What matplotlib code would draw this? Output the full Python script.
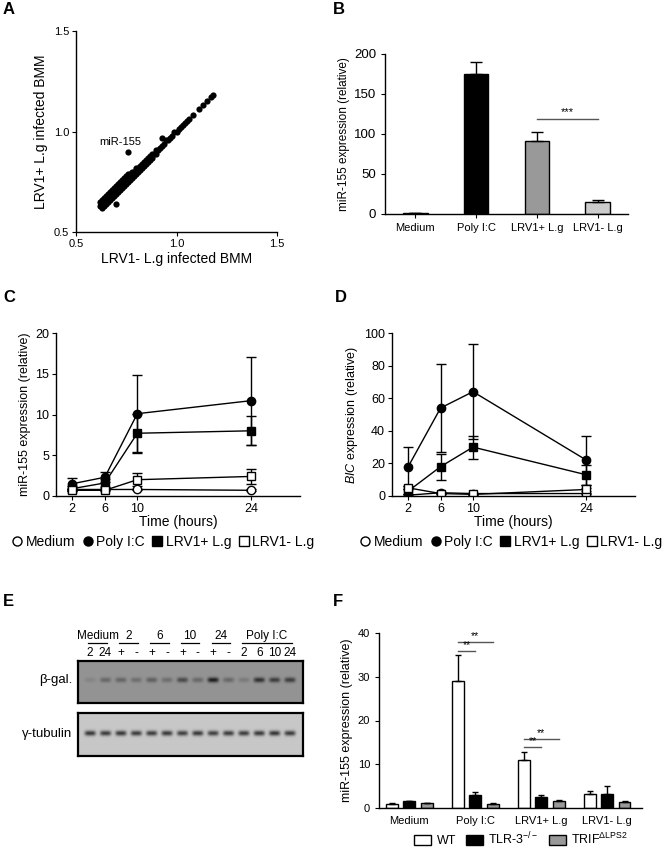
import numpy as np
import matplotlib
matplotlib.use("Agg")
from matplotlib import pyplot as plt
from matplotlib.lines import Line2D
from matplotlib.patches import Patch
from matplotlib.transforms import blended_transform_factory

plt.rcParams['font.family'] = ['Liberation Sans', 'DejaVu Sans']
plt.rcParams['mathtext.fontset'] = 'custom'
plt.rcParams['mathtext.rm'] = 'Liberation Sans'
plt.rcParams['mathtext.it'] = 'Liberation Sans:italic'
plt.rcParams['axes.linewidth'] = 1.0
plt.rcParams['xtick.direction'] = 'out'
plt.rcParams['ytick.direction'] = 'out'

# ---- panel A: miRNA array scatter
scatter_x = [
    0.62, 0.62, 0.63, 0.63, 0.63, 0.64, 0.64, 0.64, 0.65, 0.65, 0.65, 0.66, 0.66, 0.66, 0.67, 0.67, 0.67, 0.68, 0.68, 0.68,
    0.69, 0.69, 0.69, 0.70, 0.70, 0.70, 0.71, 0.71, 0.71, 0.72, 0.72, 0.72, 0.73, 0.73, 0.73, 0.74, 0.74, 0.74, 0.75, 0.75,
    0.75, 0.76, 0.76, 0.76, 0.77, 0.77, 0.77, 0.78, 0.78, 0.78, 0.79, 0.79, 0.80, 0.80, 0.80, 0.81, 0.81, 0.82, 0.82, 0.83,
    0.83, 0.84, 0.84, 0.85, 0.85, 0.86, 0.86, 0.87, 0.87, 0.88, 0.88, 0.89, 0.90, 0.90, 0.91, 0.92, 0.93, 0.94, 0.95, 0.96,
    0.97, 0.98, 0.99, 1.00, 1.01, 1.02, 1.03, 1.04, 1.05, 1.06, 1.08, 1.11, 1.13, 1.15, 1.17, 1.18,
    0.70, 0.76, 0.93]
scatter_y = [
    0.63, 0.65, 0.62, 0.64, 0.66, 0.63, 0.65, 0.67, 0.64, 0.66, 0.68, 0.65, 0.67, 0.69, 0.66, 0.68, 0.70, 0.67, 0.69, 0.71,
    0.68, 0.70, 0.72, 0.69, 0.71, 0.73, 0.70, 0.72, 0.74, 0.71, 0.73, 0.75, 0.72, 0.74, 0.76, 0.73, 0.75, 0.77, 0.74, 0.76,
    0.78, 0.75, 0.77, 0.79, 0.76, 0.78, 0.79, 0.77, 0.79, 0.80, 0.78, 0.80, 0.79, 0.81, 0.82, 0.80, 0.82, 0.81, 0.83, 0.82,
    0.84, 0.83, 0.85, 0.84, 0.86, 0.85, 0.87, 0.86, 0.88, 0.87, 0.89, 0.89, 0.89, 0.91, 0.91, 0.92, 0.93, 0.94, 0.96, 0.96,
    0.97, 0.98, 1.00, 1.00, 1.01, 1.02, 1.03, 1.04, 1.05, 1.06, 1.08, 1.11, 1.13, 1.15, 1.17, 1.18,
    0.64, 0.90, 0.97]

# ---- panel B
b_groups = ['Medium', 'Poly I:C', 'LRV1+ L.g', 'LRV1- L.g']
b_values = [1.0, 175.0, 91.0, 15.0]
b_errors = [0.8, 15.0, 12.0, 2.0]
b_colors = ['white', 'black', '#999999', '#cccccc']

# ---- panels C and D (time course)
hours = [2, 6, 10, 24]
series_names = ['Medium', 'Poly I:C', 'LRV1+ L.g', 'LRV1- L.g']
c_values = {'Medium': [0.8, 0.8, 0.8, 0.7],
            'Poly I:C': [1.5, 2.3, 10.1, 11.7],
            'LRV1+ L.g': [0.9, 1.6, 7.7, 8.0],
            'LRV1- L.g': [0.7, 0.7, 2.0, 2.4]}
c_errors = {'Medium': [0.1, 0.1, 0.1, 0.1],
            'Poly I:C': [0.7, 0.6, 4.7, 5.4],
            'LRV1+ L.g': [0.3, 0.5, 2.4, 1.8],
            'LRV1- L.g': [0.1, 0.1, 0.8, 0.9]}
d_values = {'Medium': [0.5, 2.0, 1.5, 1.5],
            'Poly I:C': [18.0, 54.0, 64.0, 22.0],
            'LRV1+ L.g': [3.0, 18.0, 30.0, 13.0],
            'LRV1- L.g': [5.0, 1.5, 1.0, 4.0]}
d_errors = {'Medium': [0.5, 0.5, 0.5, 0.5],
            'Poly I:C': [12.0, 27.0, 29.0, 15.0],
            'LRV1+ L.g': [1.5, 8.0, 7.0, 6.0],
            'LRV1- L.g': [1.0, 0.5, 0.5, 1.0]}
markers = {'Medium': ('o', 'white'), 'Poly I:C': ('o', 'black'),
           'LRV1+ L.g': ('s', 'black'), 'LRV1- L.g': ('s', 'white')}

# ---- panel E (western blot band strengths per lane)
lane_labels = ['2', '24', '+', '-', '+', '-', '+', '-', '+', '-', '2', '6', '10', '24']
lane_groups = [('Medium', 0, 1), ('2', 2, 3), ('6', 4, 5), ('10', 6, 7), ('24', 8, 9), ('Poly I:C', 10, 13)]
beta_gal = [0.12, 0.35, 0.38, 0.30, 0.42, 0.30, 0.60, 0.35, 0.95, 0.35, 0.20, 0.80, 0.70, 0.70]
tubulin = [0.85, 0.82, 0.85, 0.82, 0.82, 0.84, 0.80, 0.84, 0.80, 0.82, 0.82, 0.84, 0.86, 0.82]

# ---- panel F
f_groups = ['Medium', 'Poly I:C', 'LRV1+ L.g', 'LRV1- L.g']
f_strains = ['WT', r'TLR-3$^{\mathrm{-/-}}$', r'TRIF$^{\mathrm{\Delta LPS2}}$']
f_colors = ['white', 'black', '#999999']
f_values = [[1.0, 29.0, 11.0, 3.3],
            [1.5, 3.0, 2.6, 3.3],
            [1.1, 0.9, 1.5, 1.3]]
f_errors = [[0.1, 6.0, 1.8, 0.6],
            [0.1, 0.7, 0.3, 1.7],
            [0.1, 0.2, 0.3, 0.3]]

W, H = 669, 848
fig = plt.figure(figsize=(W / 100, H / 100), dpi=100)


def px_axes(l, t, r, b):
    return fig.add_axes([l / W, 1 - b / H, (r - l) / W, (b - t) / H])


def clean(ax):
    ax.spines['top'].set_visible(False)
    ax.spines['right'].set_visible(False)


def letter(x, y, s):
    fig.text(x / W, 1 - y / H, s, fontsize=12, fontweight='bold', va='center', ha='left')


# A
ax = px_axes(76, 31, 277, 232)
clean(ax)
ax.scatter(scatter_x, scatter_y, s=20, color='black', linewidths=0)
ax.set_xlim(0.5, 1.5)
ax.set_ylim(0.5, 1.5)
ax.set_xticks([0.5, 1.0, 1.5])
ax.set_yticks([0.5, 1.0, 1.5])
ax.tick_params(labelsize=8, length=3, pad=2)
ax.set_xlabel('LRV1- L.g infected BMM', fontsize=10, labelpad=2)
ax.set_ylabel('LRV1+ L.g infected BMM', fontsize=10, labelpad=4)
ax.text(0.72, 0.95, 'miR-155', fontsize=8, ha='center', va='center')
letter(3, 10, 'A')

# B
ax = px_axes(385, 54, 628, 214)
clean(ax)
xb = np.arange(len(b_groups))
ax.bar(xb, b_values, width=0.4, color=b_colors, edgecolor='black', linewidth=1,
       yerr=[np.zeros(len(b_values)), b_errors], capsize=4,
       error_kw=dict(elinewidth=1, capthick=1))
ax.set_xlim(-0.5, 3.5)
ax.set_ylim(0, 200)
ax.set_yticks([0, 50, 100, 150, 200])
ax.set_xticks(xb)
ax.set_xticklabels(b_groups)
ax.tick_params(axis='y', labelsize=9.5, length=3)
ax.tick_params(axis='x', labelsize=8, length=3)
ax.set_ylabel('miR-155 expression (relative)', fontsize=8.5, labelpad=3)
ax.plot([2, 3], [119, 119], color='#555555', lw=1)
ax.text(2.5, 121, '***', ha='center', va='bottom', fontsize=8)
letter(333, 10, 'B')


def time_course(ax, values, errors, ymax, ystep, ylabel):
    clean(ax)
    for name in series_names:
        m, fc = markers[name]
        ax.errorbar(hours, values[name], yerr=errors[name], color='black', marker=m,
                    mfc=fc, mec='black', ms=6, mew=1, lw=1, elinewidth=1,
                    capsize=3.5, capthick=1)
    ax.set_xlim(0, 30)
    ax.set_ylim(0, ymax)
    ax.set_xticks(hours)
    ax.set_yticks(np.arange(0, ymax + 1, ystep))
    ax.tick_params(labelsize=9, length=3, pad=2)
    ax.set_xlabel('Time (hours)', fontsize=10, labelpad=0)
    ax.set_ylabel(ylabel, fontsize=9, labelpad=3)


def time_legend(ax, cx, cy):
    handles = [Line2D([], [], ls='none', marker=markers[n][0], mfc=markers[n][1],
                      mec='black', ms=6.5, mew=1) for n in series_names]
    fig.legend(handles, series_names, loc='center', bbox_to_anchor=(cx / W, 1 - cy / H),
               ncol=4, frameon=False, fontsize=10, handlelength=0.8,
               handletextpad=0.2, columnspacing=0.5, borderpad=0)


# C
ax = px_axes(56, 333, 300, 496)
time_course(ax, c_values, c_errors, 20, 5, 'miR-155 expression (relative)')
time_legend(ax, 163, 542)
letter(3, 297, 'C')

# D
ax = px_axes(392, 333, 635, 496)
time_course(ax, d_values, d_errors, 100, 20, r'$\it{BIC}$ expression (relative)')
time_legend(ax, 511, 542)
letter(335, 297, 'D')

# E
lane_x = np.linspace(-0.78, 13.83, 450)
rows = np.linspace(0, 1, 84)


def blot(intensity, bg, yc, hw):
    img = np.full((len(rows), len(lane_x)), bg)
    for i, a in enumerate(intensity):
        prof_x = np.exp(-((lane_x - i) / 0.36) ** 4)
        prof_y = np.exp(-((rows - yc) / hw) ** 2)
        img -= a * bg * 0.85 * np.outer(prof_y, prof_x)
    return img


ax_top = px_axes(78, 661, 303, 703)
ax_top.imshow(blot(beta_gal, 0.58, 0.45, 0.06), cmap='gray', vmin=0, vmax=1,
              extent=(-0.78, 13.83, 1, 0), aspect='auto', interpolation='bilinear')
ax_bot = px_axes(78, 713, 303, 756)
ax_bot.imshow(blot(tubulin, 0.78, 0.47, 0.06), cmap='gray', vmin=0, vmax=1,
              extent=(-0.78, 13.83, 1, 0), aspect='auto', interpolation='bilinear')
for a in (ax_top, ax_bot):
    a.set_xticks([])
    a.set_yticks([])
    for sp in a.spines.values():
        sp.set_linewidth(1.6)

tr = blended_transform_factory(ax_top.transData, ax_top.transAxes)
for i, lab in enumerate(lane_labels):
    ax_top.text(i, 1.19, lab, transform=tr, ha='center', va='center', fontsize=8.5)
for name, first, last in lane_groups:
    ax_top.text((first + last) / 2, 1.6, name, transform=tr, ha='center', va='center', fontsize=8.5)
    ax_top.plot([first - 0.1, last + 0.1], [1.43, 1.43], transform=tr, color='black',
                lw=0.9, clip_on=False)
fig.text(72 / W, 1 - 680 / H, 'β-gal.', ha='right', va='center', fontsize=9.5)
fig.text(72 / W, 1 - 734 / H, 'γ-tubulin', ha='right', va='center', fontsize=9.5)
letter(3, 601, 'E')

# F
ax = px_axes(379, 633, 642, 808)
clean(ax)
xf = np.arange(len(f_groups))
offsets = [-0.265, 0.0, 0.265]
for k in range(3):
    ax.bar(xf + offsets[k], f_values[k], width=0.18, color=f_colors[k], edgecolor='black',
           linewidth=1, yerr=[np.zeros(4), f_errors[k]], capsize=2.5,
           error_kw=dict(elinewidth=1, capthick=1))
ax.set_xlim(-0.46, 3.53)
ax.set_ylim(0, 40)
ax.set_yticks([0, 10, 20, 30, 40])
ax.set_xticks(xf)
ax.set_xticklabels(f_groups)
ax.tick_params(axis='y', labelsize=8, length=3)
ax.tick_params(axis='x', labelsize=8, length=0, pad=6)
ax.set_ylabel('miR-155 expression (relative)', fontsize=9, labelpad=3)
for g, lo, hi in [(1, 35.8, 38.0), (2, 14.0, 15.8)]:
    ax.plot([g - 0.265, g], [lo, lo], color='#555555', lw=1)
    ax.text(g - 0.13, lo + 0.2, '**', ha='center', va='bottom', fontsize=7.5)
    ax.plot([g - 0.265, g + 0.265], [hi, hi], color='#555555', lw=1)
    ax.text(g, hi + 0.2, '**', ha='center', va='bottom', fontsize=7.5)
handles = [Patch(facecolor=c, edgecolor='black', linewidth=1) for c in f_colors]
fig.legend(handles, f_strains, loc='center', bbox_to_anchor=(521 / W, 1 - 839 / H),
           ncol=3, frameon=False, fontsize=9, handlelength=1.4, handleheight=0.8,
           handletextpad=0.4, columnspacing=0.8, borderpad=0)
letter(333, 601, 'F')

fig.savefig('out.png', dpi=100)
